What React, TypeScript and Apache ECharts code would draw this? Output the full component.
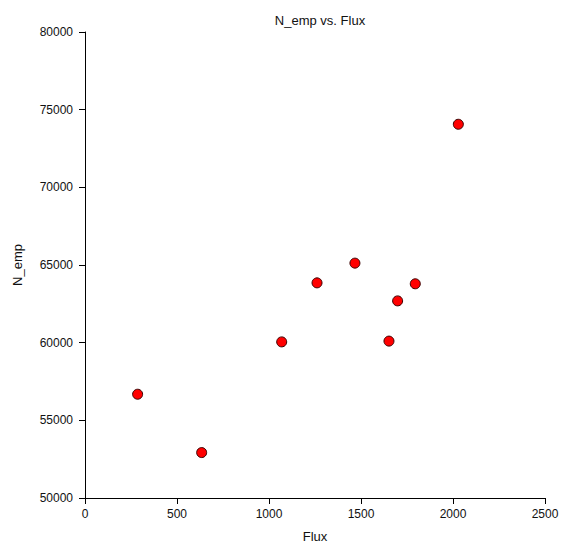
import React, { useEffect, useRef } from "react";
import * as echarts from "echarts";

const fluxValues = [286, 634, 1069, 1261, 1467, 1652, 1699, 1795, 2029];
const nEmpValues = [56680, 52925, 60050, 63850, 65120, 60100, 62690, 63790, 74060];
const chartTitle = "N_emp vs. Flux";
const xName = "Flux";
const yName = "N_emp";

const FONT = "'Liberation Sans', Arial, Helvetica, sans-serif";

export default function App() {
  const ref = useRef<HTMLDivElement>(null);
  useEffect(() => {
    if (!ref.current) return;
    const chart = echarts.init(ref.current, undefined, { renderer: "svg" });
    const data = fluxValues.map((x, i) => [x, nEmpValues[i]]);
    chart.setOption({
      animation: false,
      backgroundColor: "#ffffff",
      textStyle: { fontFamily: FONT },
      title: {
        text: chartTitle,
        left: 315,
        textAlign: "center",
        top: 9,
        textStyle: { fontFamily: FONT, fontSize: 13, fontWeight: "normal", color: "#111" },
      },
      grid: { left: 85, right: 21, top: 32, bottom: 51, containLabel: false },
      xAxis: {
        type: "value",
        min: 0,
        max: 2500,
        interval: 500,
        name: xName,
        nameLocation: "middle",
        nameGap: 32,
        nameTextStyle: { fontFamily: FONT, fontSize: 13, color: "#111" },
        axisLine: { show: true, lineStyle: { color: "#000", width: 1 } },
        axisTick: { show: true, length: 6, lineStyle: { color: "#000" } },
        axisLabel: { margin: 10, fontFamily: FONT, fontSize: 12, color: "#111", formatter: (v: number) => String(v) },
        splitLine: { show: false },
      },
      yAxis: {
        type: "value",
        min: 50000,
        max: 80000,
        interval: 5000,
        name: yName,
        nameLocation: "middle",
        nameGap: 61,
        nameTextStyle: { fontFamily: FONT, fontSize: 13, color: "#111" },
        axisLine: { show: true, lineStyle: { color: "#000", width: 1 } },
        axisTick: { show: true, length: 6, lineStyle: { color: "#000" } },
        axisLabel: { margin: 12, fontFamily: FONT, fontSize: 12, color: "#111", formatter: (v: number) => String(v) },
        splitLine: { show: false },
      },
      series: [
        {
          type: "scatter",
          data,
          symbol: "circle",
          symbolSize: 10,
          itemStyle: { color: "#ff0000", opacity: 1, borderColor: "#3a0000", borderWidth: 1 },
        },
      ],
    });
    return () => chart.dispose();
  }, []);
  return <div ref={ref} style={{ width: 566, height: 549, position: "absolute", left: 0, top: 0 }} />;
}
